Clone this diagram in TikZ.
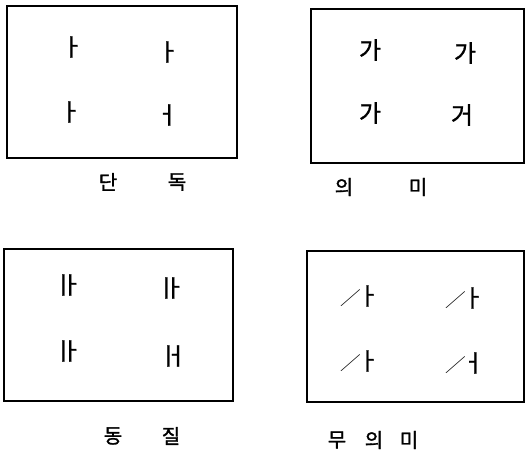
\documentclass[tikz,border=0pt]{standalone}
\usepackage{fontspec}
\newfontfamily\krj{Noto Sans CJK KR}[FakeBold=1]
\newfontfamily\krs{Noto Sans CJK KR}
\newfontfamily\krb{Noto Sans CJK KR}[FakeBold=1.5]
\tikzset{
  box/.style={draw, line width=1.2pt, inner sep=0pt},
  jamo/.style={font=\krj\fontsize{24}{24}\selectfont, inner sep=0pt},
  lbl/.style={font=\krb\fontsize{20}{20}\selectfont, inner sep=0pt},
}
\newcommand{\barA}{ㅣ\hspace{-0.6em}ㅏ}
\newcommand{\barEo}{ㅣ\hspace{-0.6em}ㅓ}
\newcommand{\slA}{\raisebox{0.02em}{\scalebox{0.8}[0.7]{\krs ╱}}\hspace{-0.12em}ㅏ}
\newcommand{\slEo}{\raisebox{0.02em}{\scalebox{0.8}[0.7]{\krs ╱}}\hspace{-0.12em}ㅓ}
\begin{document}
\begin{tikzpicture}[x=1pt,y=1pt]
\useasboundingbox (0,0) rectangle (525,456);
% box 1
\node[box, minimum width=230pt, minimum height=152pt] (b1) at (122,374) {};
\node[jamo] (a11) at (72,409) {ㅏ};
\node[jamo] (a12) at (168,404) {ㅏ};
\node[jamo] (a13) at (70,344) {ㅏ};
\node[jamo] (a14) at (167,341) {ㅓ};
\node[lbl] (l11) at (108,274) {단};
\node[lbl] (l12) at (177,274) {독};
% box 2
\node[box, minimum width=213pt, minimum height=154pt] (b2) at (417.5,370) {};
\node[jamo] (a21) at (370,406) {가};
\node[jamo] (a22) at (465,403) {가};
\node[jamo] (a23) at (370,343) {가};
\node[jamo] (a24) at (462,341) {거};
\node[lbl] (l21) at (344,269) {의};
\node[lbl] (l22) at (418,269) {미};
% box 3
\node[box, minimum width=229pt, minimum height=152pt] (b3) at (118.5,131) {};
\node[jamo] (a31) at (67,171) {\barA};
\node[jamo] (a32) at (170,168) {\barA};
\node[jamo] (a33) at (67,105) {\barA};
\node[jamo] (a34) at (172,100) {\barEo};
\node[lbl] (l31) at (113,20) {동};
\node[lbl] (l32) at (171,20) {질};
% box 4
\node[box, minimum width=217pt, minimum height=151pt] (b4) at (415.5,129.5) {};
\node[jamo] (a41) at (360,160) {\slA};
\node[jamo] (a42) at (465,158) {\slA};
\node[jamo] (a43) at (360,95) {\slA};
\node[jamo] (a44) at (465,93) {\slEo};
\node[lbl] (l41) at (337,16) {무};
\node[lbl] (l42) at (374,16) {의};
\node[lbl] (l43) at (409,16) {미};
\end{tikzpicture}
\end{document}
